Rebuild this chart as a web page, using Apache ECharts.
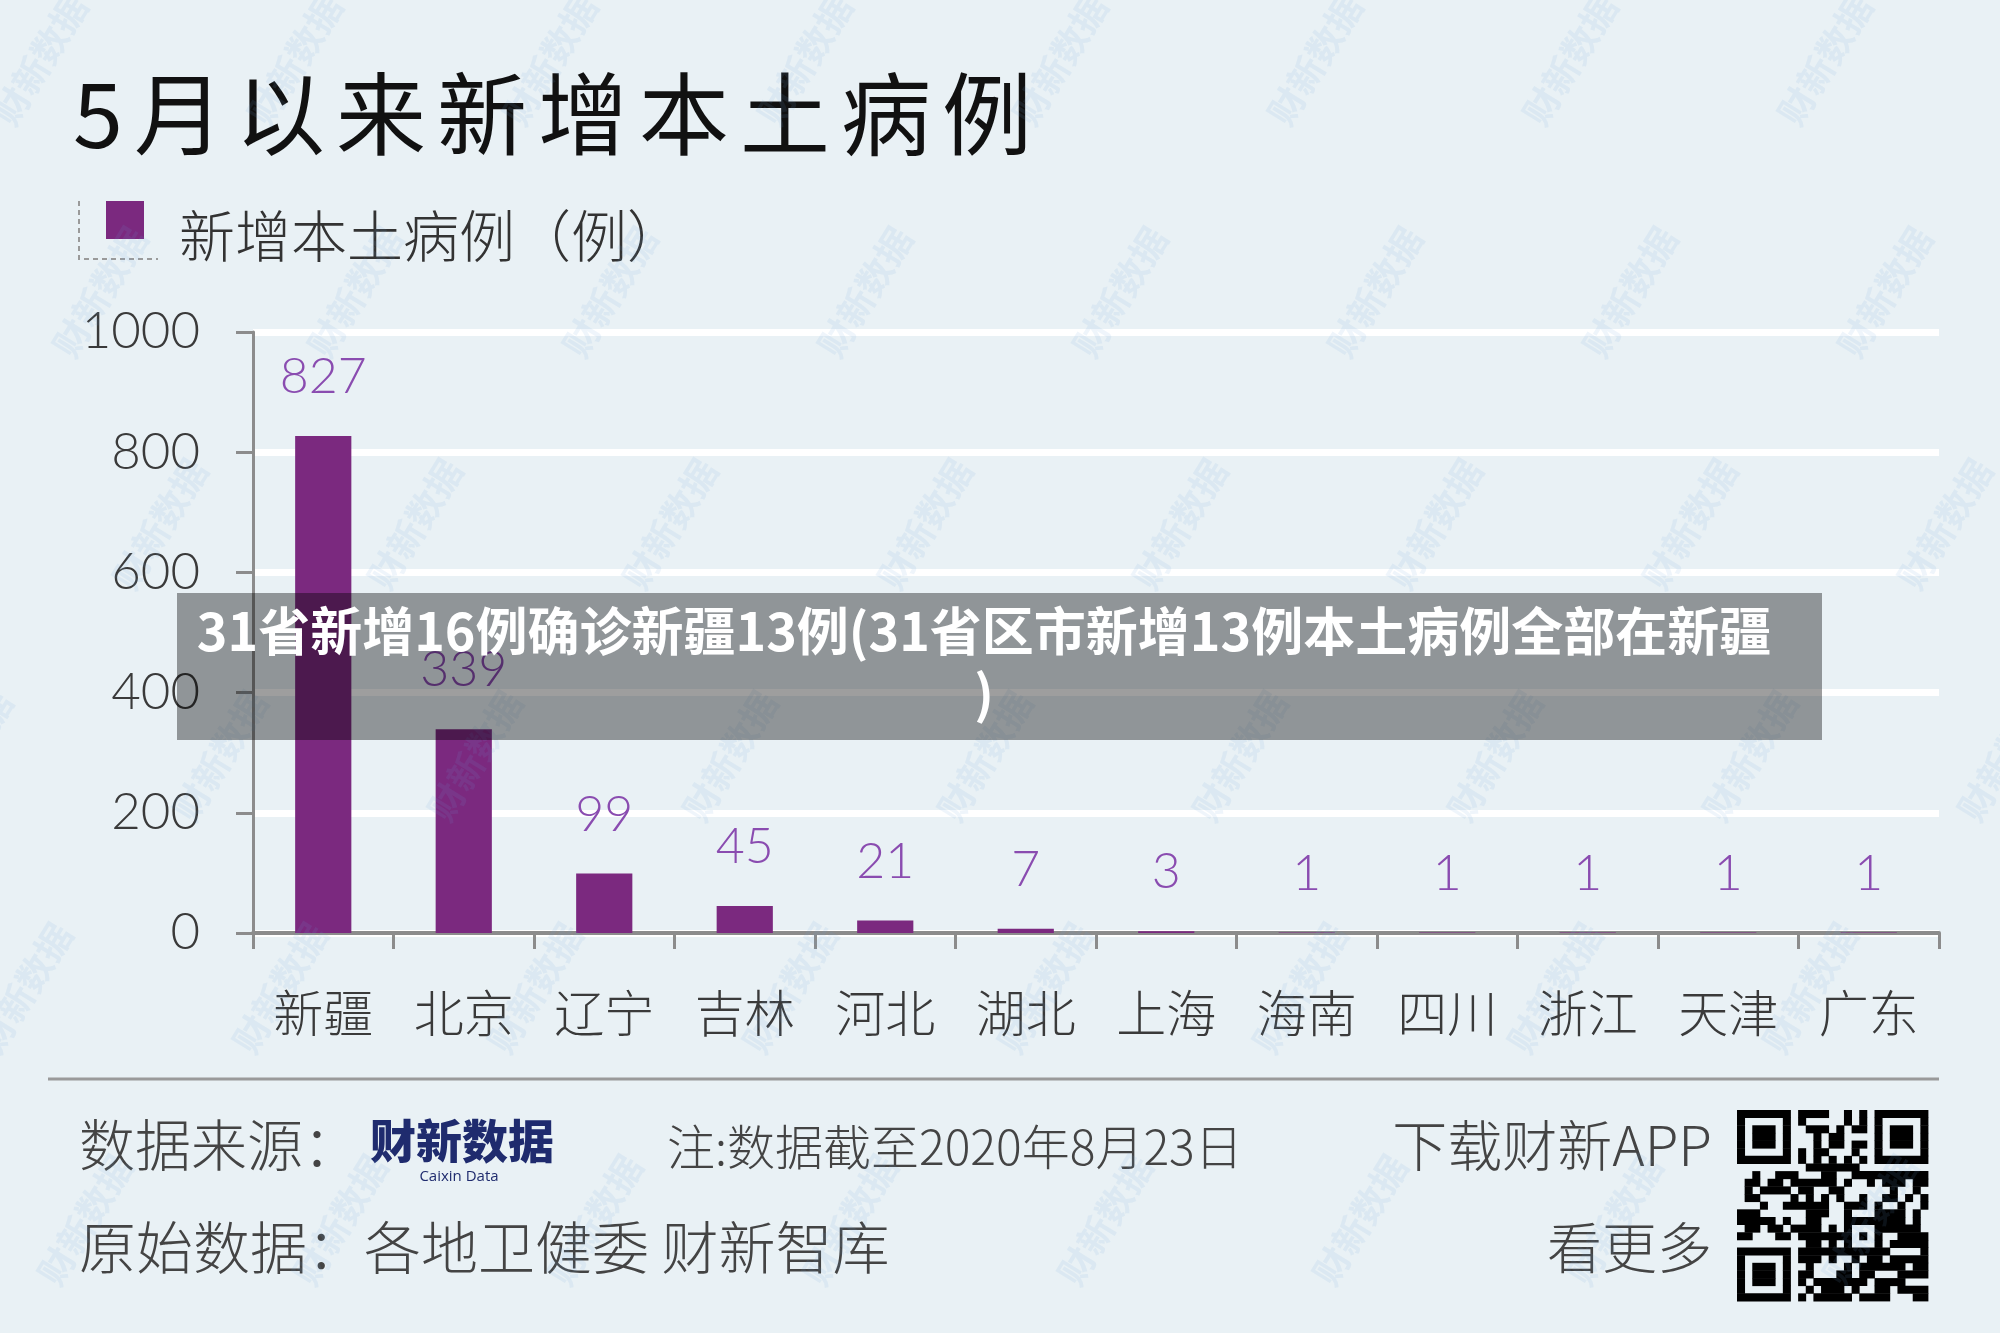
<!DOCTYPE html>
<html><head><meta charset="utf-8">
<script src="https://cdn.jsdelivr.net/npm/echarts@6/dist/echarts.min.js"></script>
<style>html,body{margin:0;padding:0;background:#e9f1f5;} #c{width:2000px;height:1333px;}</style>
</head><body><div id="c"></div>
<script>
// ---- data ----
const categories = ['新疆','北京','辽宁','吉林','河北','湖北','上海','海南','四川','浙江','天津','广东'];
const cases = [827, 339, 99, 45, 21, 7, 3, 1, 1, 1, 1, 1];
const seriesName = '新增本土病例（例）';
const yMin = 0, yMax = 1000, yStep = 200;
const titleText = '5月以来新增本土病例';
const bannerText = '31省新增16例确诊新疆13例(31省区市新增13例本土病例全部在新疆\n)';
const footSource = '数据来源：';
const footLogo = '财新数据';
const footLogoSub = 'Caixin Data';
const footNote = '注:数据截至2020年8月23日';
const footRaw = '原始数据：各地卫健委 财新智库';
const footApp = '下载财新APP';
const footMore = '看更多';

const CJK = "'Noto Sans CJK SC','Noto Sans',sans-serif";
const NUM = "'Lato','Noto Sans CJK SC',sans-serif";

const chart = echarts.init(document.getElementById('c'), null, {renderer: 'canvas'});

// ---- decorative graphics ----
const g = [];
// watermarks
for (let r = -1; r < 7; r++) {
  for (let c = -1; c < 9; c++) {
    const x = c * 255 + r * 60 + 40;
    const y = r * 232 + 60;
    g.push({type: 'text', x: x, y: y, rotation: 1.02, z: 40, silent: true,
      style: {text: '财新数据', font: "bold 36px " + CJK, fill: 'rgba(110,160,215,0.11)', textAlign: 'center', textVerticalAlign: 'middle'}});
  }
}
// legend dotted corner
g.push({type: 'polyline', z: 5, shape: {points: [[79, 201], [79, 259], [158, 259]]},
  style: {stroke: '#9a9a9a', lineWidth: 2, lineDash: [5, 4], fill: null}});
// legend label
g.push({type: 'text', z: 5, x: 179, y: 236, style: {text: seriesName, font: "300 56px " + CJK, fill: '#333',
  textAlign: 'left', textVerticalAlign: 'middle'}});
// banner overlay
g.push({type: 'rect', z: 50, shape: {x: 177, y: 593, width: 1645, height: 147}, style: {fill: 'rgba(0,0,0,0.38)'}});
g.push({type: 'text', z: 51, x: 984, y: 662, style: {text: bannerText, font: "bold 52px " + CJK, fill: '#ffffff',
  textAlign: 'center', textVerticalAlign: 'middle', lineHeight: 62}});
// footer divider
g.push({type: 'line', z: 5, shape: {x1: 48, y1: 1079, x2: 1939, y2: 1079}, style: {stroke: '#9a9a9a', lineWidth: 3}});
// footer texts
const ft = (text, x, y, align, font, fill) => g.push({type: 'text', z: 5, x: x, y: y,
  style: {text: text, font: font, fill: fill, textAlign: align, textVerticalAlign: 'middle'}});
ft(footSource, 79, 1145, 'left', "300 56px " + CJK, '#444');
ft(footLogo, 462, 1141, 'center', "900 46px " + CJK, '#1f2b6e');
ft(footLogoSub, 459, 1177, 'center', "15px 'Open Sans',sans-serif", '#1f2b6e');
ft(footNote, 667, 1147, 'left', "300 48px " + CJK, '#444');
ft(footApp, 1712, 1145, 'right', "300 55px " + CJK, '#444');
ft(footRaw, 79, 1247, 'left', "300 57px " + CJK, '#444');
ft(footMore, 1712, 1247, 'right', "300 55px " + CJK, '#444');

// QR-like decoration
(function () {
  const N = 25, x0 = 1737, y0 = 1110, m = 191 / N;
  const M = [];
  for (let i = 0; i < N; i++) { M.push([]); for (let j = 0; j < N; j++) {
    let h = Math.imul(i + 11, 0x9E3779B1) ^ Math.imul(j + 7, 0x85EBCA6B);
    h ^= h >>> 15; h = Math.imul(h, 0x2C1B3C6D); h ^= h >>> 12;
    M[i].push(((h >>> 8) & 255) < 150); } }
  const finder = (r0, c0) => { for (let i = -1; i < 8; i++) for (let j = -1; j < 8; j++) {
    const r = r0 + i, c = c0 + j; if (r < 0 || c < 0 || r >= N || c >= N) continue;
    const inside = i >= 0 && i < 7 && j >= 0 && j < 7;
    M[r][c] = inside && (i === 0 || i === 6 || j === 0 || j === 6 || (i >= 2 && i <= 4 && j >= 2 && j <= 4)); } };
  finder(0, 0); finder(0, 18); finder(18, 0);
  for (let i = -2; i <= 2; i++) for (let j = -2; j <= 2; j++) M[16 + i][16 + j] = (Math.max(Math.abs(i), Math.abs(j)) !== 1);
  for (let k = 8; k < 17; k++) { M[6][k] = k % 2 === 0; M[k][6] = k % 2 === 0; }
  for (let i = 0; i < N; i++) { let j = 0; while (j < N) { if (M[i][j]) { let k = j; while (k < N && M[i][k]) k++;
    g.push({type: 'rect', z: 5, shape: {x: x0 + j * m, y: y0 + i * m, width: (k - j) * m + 0.4, height: m + 0.4}, style: {fill: '#000'}}); j = k; } else j++; } }
})();

const titleRich = titleText.split('').map(ch => '{s|' + ch + '}').join('');

const option = {
  backgroundColor: '#e9f1f5',
  animation: false,
  title: {text: titleRich, left: 73, top: 69, padding: 0,
    textStyle: {fontFamily: CJK, fontSize: 90, fontWeight: 400, color: '#111',
      rich: {s: {fontFamily: CJK, fontSize: 90, fontWeight: 400, color: '#111', padding: [0, 11, 0, 0]}}}},
  legend: {left: 106, top: 201, padding: 0, itemWidth: 38, itemHeight: 38, icon: 'rect', data: [seriesName],
    formatter: () => '', selectedMode: false},
  grid: {left: 253, right: 61, top: 332, bottom: 400, containLabel: false},
  xAxis: {type: 'category', data: categories,
    axisLine: {lineStyle: {color: '#8c8c8c', width: 4}},
    axisTick: {show: true, length: 16, lineStyle: {color: '#8c8c8c', width: 3}},
    axisLabel: {fontFamily: CJK, fontSize: 50, fontWeight: 300, color: '#3a3a3a', margin: 55}},
  yAxis: {type: 'value', min: yMin, max: yMax, interval: yStep,
    axisLine: {show: true, lineStyle: {color: '#8c8c8c', width: 3}},
    axisTick: {show: true, length: 17, lineStyle: {color: '#8c8c8c', width: 3}},
    axisLabel: {fontFamily: NUM, fontSize: 51, fontWeight: 300, color: '#3a3a3a', margin: 53, formatter: v => String(v)},
    splitLine: {show: true, lineStyle: {color: '#ffffff', width: 7}}},
  series: [{name: seriesName, type: 'bar', data: cases, barWidth: '40%',
    itemStyle: {color: '#7b297f'},
    label: {show: true, position: 'top', distance: 34, fontFamily: NUM, fontSize: 50, fontWeight: 300, color: '#8a4cb0'}}],
  graphic: g
};
chart.setOption(option);
</script>
</body></html>
